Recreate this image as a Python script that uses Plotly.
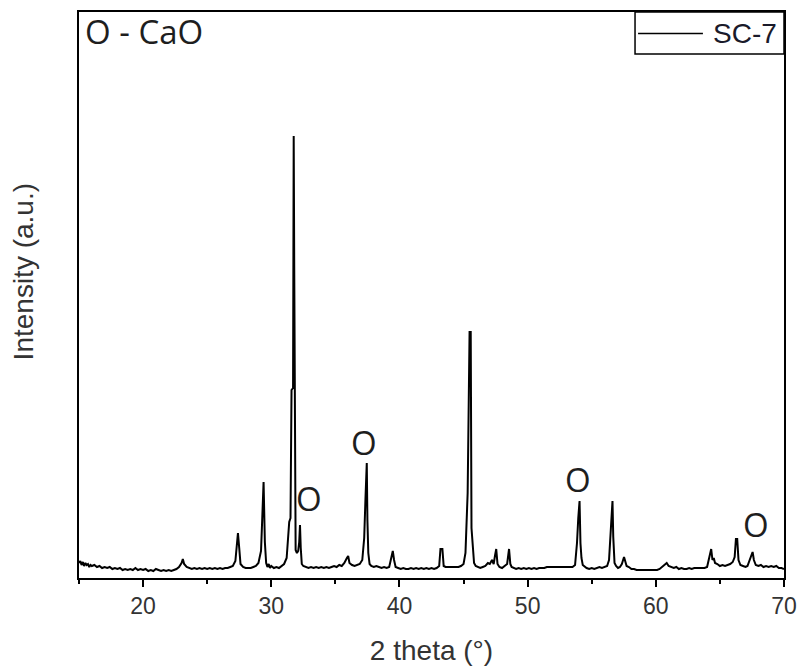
import plotly.graph_objects as go

two_theta = [
    15.00, 15.10, 15.20, 15.30, 15.40, 15.50, 15.60, 15.70, 15.80, 15.90, 16.00, 16.20, 16.40, 16.60, 16.80,
    17.00, 17.20, 17.40, 17.60, 17.80, 18.00, 18.20, 18.40, 18.60, 18.80, 19.00, 19.20, 19.40, 19.60, 19.80,
    20.00, 20.20, 20.40, 20.60, 20.80, 21.00, 21.20, 21.40, 21.60, 21.80, 22.00, 22.20, 22.40, 22.60, 22.80,
    23.00, 23.10, 23.20, 23.40, 23.60, 23.80, 24.00, 24.20, 24.40, 24.60, 24.80, 25.00, 25.20, 25.40, 25.60,
    25.80, 26.00, 26.20, 26.40, 26.60, 26.80, 27.00, 27.20, 27.30, 27.40, 27.50, 27.60, 27.80, 28.00, 28.20,
    28.40, 28.60, 28.80, 29.00, 29.20, 29.30, 29.40, 29.50, 29.60, 29.70, 29.80, 29.90, 30.00, 30.20, 30.40,
    30.60, 30.80, 31.00, 31.20, 31.40, 31.50, 31.58, 31.70, 31.75, 31.79, 31.84, 31.90, 32.00, 32.10, 32.18,
    32.24, 32.30, 32.38, 32.50, 32.70, 32.90, 33.10, 33.30, 33.50, 33.70, 33.90, 34.10, 34.30, 34.50, 34.70,
    34.90, 35.10, 35.30, 35.50, 35.70, 35.90, 36.00, 36.10, 36.30, 36.50, 36.70, 36.90, 37.10, 37.25, 37.35,
    37.45, 37.50, 37.57, 37.67, 37.80, 38.00, 38.20, 38.40, 38.60, 38.80, 39.00, 39.20, 39.38, 39.48, 39.58,
    39.70, 39.90, 40.10, 40.30, 40.50, 40.70, 40.90, 41.10, 41.30, 41.50, 41.70, 41.90, 42.10, 42.30, 42.50,
    42.70, 42.90, 43.10, 43.20, 43.35, 43.45, 43.60, 43.80, 44.00, 44.20, 44.40, 44.60, 44.80, 45.00, 45.15,
    45.32, 45.47, 45.56, 45.62, 45.72, 45.82, 45.95, 46.10, 46.30, 46.50, 46.70, 46.90, 47.05, 47.22, 47.35,
    47.45, 47.55, 47.65, 47.80, 48.00, 48.20, 48.40, 48.55, 48.65, 48.75, 48.90, 49.10, 49.30, 49.50, 49.70,
    49.90, 50.10, 50.30, 50.50, 50.70, 50.90, 51.10, 51.30, 51.50, 51.70, 51.90, 52.10, 52.30, 52.50, 52.70,
    52.90, 53.10, 53.30, 53.50, 53.70, 53.85, 53.95, 54.05, 54.12, 54.20, 54.30, 54.45, 54.60, 54.80, 55.00,
    55.20, 55.40, 55.60, 55.80, 56.00, 56.20, 56.35, 56.45, 56.55, 56.62, 56.68, 56.78, 56.90, 57.05, 57.20,
    57.35, 57.52, 57.62, 57.72, 57.90, 58.10, 58.30, 58.50, 58.70, 58.90, 59.10, 59.30, 59.50, 59.70, 59.90,
    60.10, 60.30, 60.50, 60.70, 60.85, 61.00, 61.20, 61.40, 61.60, 61.80, 62.00, 62.20, 62.40, 62.60, 62.80,
    63.00, 63.20, 63.40, 63.60, 63.80, 64.00, 64.15, 64.32, 64.42, 64.52, 64.62, 64.80, 65.00, 65.20, 65.40,
    65.60, 65.80, 66.00, 66.15, 66.25, 66.35, 66.45, 66.60, 66.80, 67.00, 67.15, 67.30, 67.45, 67.55, 67.65,
    67.80, 68.00, 68.20, 68.40, 68.60, 68.80, 69.00, 69.20, 69.40, 69.60, 69.80, 70.00,
]
intensity = [
    15, 17, 13, 16, 12, 15, 13, 14, 11, 13, 12, 13, 11, 12, 10,
    11, 10, 11, 9, 10, 9, 10, 8, 9, 8, 9, 8, 10, 8, 9,
    8, 9, 7, 8, 7, 9, 8, 7, 8, 7, 8, 7, 8, 9, 11,
    15, 19, 14, 11, 10, 9, 10, 9, 10, 9, 10, 9, 10, 9, 10,
    9, 10, 9, 10, 10, 11, 12, 17, 30, 45, 30, 14, 11, 10, 10,
    10, 11, 12, 15, 27, 61, 96, 36, 15, 11, 14, 10, 12, 10, 11,
    10, 12, 14, 20, 56, 60, 188, 190, 442, 313, 60, 28, 25, 27, 36,
    53, 30, 14, 12, 11, 10, 11, 10, 11, 10, 11, 10, 11, 10, 11,
    12, 11, 13, 12, 15, 20, 22, 15, 13, 12, 13, 14, 18, 40, 80,
    115, 58, 25, 14, 12, 11, 12, 11, 10, 11, 10, 11, 20, 27, 18,
    11, 10, 9, 10, 9, 9, 10, 9, 10, 9, 10, 9, 10, 9, 10,
    9, 10, 12, 29, 29, 12, 11, 11, 11, 11, 11, 11, 12, 14, 25,
    85, 246, 246, 50, 30, 15, 12, 11, 10, 11, 12, 15, 14, 18, 14,
    22, 29, 14, 11, 10, 12, 14, 29, 14, 11, 10, 9, 10, 9, 10,
    9, 10, 9, 10, 9, 10, 10, 10, 11, 11, 11, 11, 11, 11, 11,
    11, 11, 11, 11, 13, 35, 60, 77, 35, 20, 13, 11, 10, 9, 10,
    9, 10, 11, 10, 11, 12, 18, 40, 70, 77, 41, 15, 12, 10, 11,
    14, 21, 15, 12, 11, 9, 9, 8, 8, 8, 8, 8, 8, 8, 8,
    8, 9, 11, 13, 15, 12, 11, 10, 11, 9, 10, 9, 9, 10, 9,
    10, 10, 10, 10, 10, 11, 20, 29, 18, 20, 15, 14, 12, 13, 12,
    13, 14, 16, 21, 39, 39, 18, 13, 12, 11, 12, 18, 24, 26, 18,
    13, 12, 13, 11, 12, 11, 12, 11, 12, 10, 10, 9,
]

series_name = "SC-7"
phase_label = "O - CaO"
x_title = "2 theta (°)"
y_title = "Intensity (a.u.)"
peak_marks_x = [32.95, 37.27, 53.95, 67.84]
peak_marks_y = [80, 136, 99, 54]
peak_mark_text = ["O", "O", "O", "O"]

fig = go.Figure()
fig.add_trace(go.Scatter(
    x=two_theta, y=intensity, mode="lines", name=series_name,
    line=dict(color="black", width=2), showlegend=False,
))

label_font = dict(family="Open Sans, Liberation Sans, sans-serif", size=33, color="#1e1e1e")
for px, py, t in zip(peak_marks_x, peak_marks_y, peak_mark_text):
    fig.add_annotation(x=px, y=py, text=t, showarrow=False, xanchor="center", yanchor="middle",
                       font=label_font)

fig.add_annotation(xref="paper", yref="paper", x=0.006, y=0.966, text=phase_label, showarrow=False,
                   xanchor="left", yanchor="middle", font=label_font)

# y-axis title (placed like the reference, slightly above the axis centre)
fig.add_annotation(xref="paper", yref="paper", x=-0.0794, y=0.54, text=y_title, showarrow=False,
                   textangle=-90, xanchor="center", yanchor="middle",
                   font=dict(family="Liberation Sans, Arial, sans-serif", size=28, color="#333333"))

# legend box
fig.add_shape(type="rect", xref="paper", yref="paper", x0=0.7887, x1=1.0, y0=0.9258, y1=1.0,
              line=dict(color="black", width=1.5), fillcolor="white", layer="above")
fig.add_shape(type="line", xref="paper", yref="paper", x0=0.793, x1=0.885, y0=0.962, y1=0.962,
              line=dict(color="black", width=1.5))
fig.add_annotation(xref="paper", yref="paper", x=0.896, y=0.962, text=series_name, showarrow=False,
                   xanchor="left", yanchor="middle",
                   font=dict(family="Liberation Sans, Arial, sans-serif", size=28, color="#1a1a2a"))

fig.update_layout(
    width=798, height=671,
    margin=dict(l=79, r=14, t=12, b=93, autoexpand=False),
    paper_bgcolor="white", plot_bgcolor="white",
    font=dict(family="Liberation Sans, Arial, sans-serif", color="#333333"),
)
fig.update_xaxes(
    automargin=False,
    range=[15, 70], tick0=0, dtick=10, ticks="outside", ticklen=7, tickwidth=1.5, tickcolor="black",
    minor=dict(dtick=5, ticks="outside", ticklen=4, tickwidth=1.5, tickcolor="black"),
    showline=True, linecolor="black", linewidth=1.5, mirror=True, showgrid=False, zeroline=False,
    tickfont=dict(size=23, color="#333333"),
    title=dict(text=x_title, font=dict(size=28, color="#333333"), standoff=22),
)
fig.update_yaxes(
    automargin=False,
    range=[0, 566], showticklabels=False, ticks="",
    showline=True, linecolor="black", linewidth=1.5, mirror=True, showgrid=False, zeroline=False,
)

fig.write_html("out.html", config={"displayModeBar": False},
               post_script="document.body.style.margin='0';")
